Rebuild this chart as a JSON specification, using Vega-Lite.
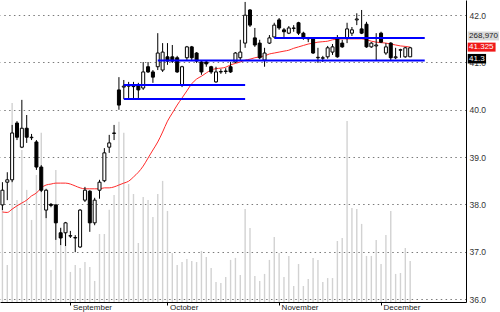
{
 "$schema": "https://vega.github.io/schema/vega-lite/v6.json",
 "width": 466,
 "height": 302,
 "padding": {"left": 0, "top": 0, "right": 34, "bottom": 10},
 "autosize": {"type": "none"},
 "background": "#ffffff",
 "config": {"view": {"stroke": null}, "font": "Liberation Sans"},
 "datasets": {
  "px": [
   {"d":"2012-08-14","o":37.99,"h":38.47,"l":37.88,"c":38.30,"v":669000,"ma":37.84},
   {"d":"2012-08-15","o":38.47,"h":38.68,"l":38.09,"c":38.52,"v":243000,"ma":37.83},
   {"d":"2012-08-16","o":38.52,"h":39.68,"l":38.47,"c":39.51,"v":1305000,"ma":37.90},
   {"d":"2012-08-17","o":39.72,"h":39.76,"l":39.36,"c":39.42,"v":669000,"ma":37.97},
   {"d":"2012-08-20","o":39.21,"h":40.21,"l":39.19,"c":39.61,"v":997000,"ma":38.03},
   {"d":"2012-08-21","o":39.61,"h":39.89,"l":39.30,"c":39.42,"v":735000,"ma":38.09},
   {"d":"2012-08-22","o":39.41,"h":39.49,"l":39.36,"c":39.42,"v":538000,"ma":38.18},
   {"d":"2012-08-23","o":39.32,"h":39.36,"l":38.73,"c":38.79,"v":833000,"ma":38.24},
   {"d":"2012-08-24","o":38.79,"h":38.83,"l":38.26,"c":38.30,"v":1109000,"ma":38.35},
   {"d":"2012-08-27","o":37.88,"h":38.33,"l":37.71,"c":38.30,"v":735000,"ma":38.41},
   {"d":"2012-08-28","o":38.00,"h":38.03,"l":37.94,"c":37.98,"v":210000,"ma":38.43},
   {"d":"2012-08-29","o":37.99,"h":37.99,"l":37.25,"c":37.61,"v":866000,"ma":38.45},
   {"d":"2012-08-30","o":37.40,"h":37.50,"l":37.14,"c":37.29,"v":492000,"ma":38.45},
   {"d":"2012-08-31","o":37.40,"h":37.63,"l":37.12,"c":37.61,"v":492000,"ma":38.45},
   {"d":"2012-09-03","o":37.33,"h":37.44,"l":37.29,"c":37.34,"v":197000,"ma":38.43},
   {"d":"2012-09-04","o":37.29,"h":37.35,"l":36.99,"c":37.30,"v":243000,"ma":38.39},
   {"d":"2012-09-05","o":37.10,"h":37.90,"l":37.08,"c":37.88,"v":223000,"ma":38.35},
   {"d":"2012-09-06","o":38.09,"h":38.37,"l":38.05,"c":38.30,"v":262000,"ma":38.33},
   {"d":"2012-09-07","o":38.28,"h":38.30,"l":37.42,"c":37.61,"v":230000,"ma":38.33},
   {"d":"2012-09-10","o":37.61,"h":38.14,"l":37.56,"c":38.09,"v":138000,"ma":38.33},
   {"d":"2012-09-11","o":38.30,"h":38.52,"l":38.12,"c":38.47,"v":446000,"ma":38.33},
   {"d":"2012-09-12","o":38.50,"h":39.19,"l":38.47,"c":39.09,"v":446000,"ma":38.35},
   {"d":"2012-09-13","o":39.21,"h":39.47,"l":39.09,"c":39.30,"v":604000,"ma":38.35},
   {"d":"2012-09-14","o":39.50,"h":39.68,"l":39.36,"c":39.51,"v":702000,"ma":38.37},
   {"d":"2012-09-17","o":40.42,"h":40.69,"l":40.00,"c":40.10,"v":1181000,"ma":38.41},
   {"d":"2012-09-18","o":40.48,"h":40.63,"l":40.23,"c":40.50,"v":1109000,"ma":38.45},
   {"d":"2012-09-19","o":40.50,"h":40.59,"l":40.25,"c":40.51,"v":774000,"ma":38.49},
   {"d":"2012-09-20","o":40.49,"h":40.59,"l":40.23,"c":40.50,"v":708000,"ma":38.58},
   {"d":"2012-09-21","o":40.52,"h":40.57,"l":40.25,"c":40.42,"v":387000,"ma":38.68},
   {"d":"2012-09-24","o":40.46,"h":41.01,"l":40.42,"c":40.80,"v":689000,"ma":38.81},
   {"d":"2012-09-25","o":40.91,"h":41.01,"l":40.78,"c":40.80,"v":669000,"ma":38.98},
   {"d":"2012-09-26","o":40.80,"h":40.84,"l":40.57,"c":40.69,"v":558000,"ma":39.15},
   {"d":"2012-09-27","o":40.91,"h":41.62,"l":40.84,"c":41.20,"v":708000,"ma":39.32},
   {"d":"2012-09-28","o":40.84,"h":41.41,"l":40.80,"c":41.22,"v":794000,"ma":39.53},
   {"d":"2012-10-01","o":41.12,"h":41.41,"l":40.95,"c":41.03,"v":597000,"ma":39.76},
   {"d":"2012-10-02","o":41.12,"h":41.37,"l":40.99,"c":41.03,"v":321000,"ma":39.93},
   {"d":"2012-10-03","o":41.10,"h":41.14,"l":40.78,"c":40.80,"v":243000,"ma":40.10},
   {"d":"2012-10-04","o":40.52,"h":40.93,"l":40.48,"c":40.91,"v":262000,"ma":40.25},
   {"d":"2012-10-05","o":41.10,"h":41.35,"l":41.05,"c":41.33,"v":282000,"ma":40.40},
   {"d":"2012-10-08","o":41.33,"h":41.35,"l":41.05,"c":41.10,"v":269000,"ma":40.55},
   {"d":"2012-10-09","o":41.20,"h":41.22,"l":40.99,"c":41.03,"v":262000,"ma":40.65},
   {"d":"2012-10-10","o":41.01,"h":41.05,"l":40.74,"c":40.80,"v":335000,"ma":40.71},
   {"d":"2012-10-11","o":41.01,"h":41.05,"l":40.91,"c":40.97,"v":295000,"ma":40.78},
   {"d":"2012-10-12","o":40.91,"h":40.93,"l":40.76,"c":40.80,"v":223000,"ma":40.84},
   {"d":"2012-10-15","o":40.59,"h":40.91,"l":40.57,"c":40.80,"v":131000,"ma":40.87},
   {"d":"2012-10-16","o":40.80,"h":40.86,"l":40.76,"c":40.81,"v":125000,"ma":40.88},
   {"d":"2012-10-17","o":40.81,"h":40.88,"l":40.76,"c":40.82,"v":164000,"ma":40.90},
   {"d":"2012-10-18","o":40.91,"h":41.01,"l":40.78,"c":40.80,"v":276000,"ma":40.95},
   {"d":"2012-10-19","o":41.01,"h":41.22,"l":40.99,"c":41.20,"v":289000,"ma":40.98},
   {"d":"2012-10-22","o":41.10,"h":41.48,"l":41.05,"c":41.22,"v":177000,"ma":41.01},
   {"d":"2012-10-23","o":41.41,"h":42.28,"l":41.31,"c":42.00,"v":610000,"ma":41.05},
   {"d":"2012-10-24","o":42.11,"h":42.13,"l":41.75,"c":41.79,"v":485000,"ma":41.07},
   {"d":"2012-10-25","o":41.52,"h":41.73,"l":41.33,"c":41.37,"v":171000,"ma":41.10},
   {"d":"2012-10-26","o":41.41,"h":41.48,"l":41.07,"c":41.10,"v":138000,"ma":41.12},
   {"d":"2012-10-29","o":41.05,"h":41.31,"l":40.91,"c":41.20,"v":184000,"ma":41.14},
   {"d":"2012-10-30","o":41.41,"h":41.58,"l":41.39,"c":41.52,"v":276000,"ma":41.18},
   {"d":"2012-10-31","o":41.54,"h":41.84,"l":41.52,"c":41.79,"v":426000,"ma":41.20},
   {"d":"2012-11-01","o":41.90,"h":41.94,"l":41.69,"c":41.73,"v":321000,"ma":41.22},
   {"d":"2012-11-02","o":41.69,"h":41.73,"l":41.54,"c":41.65,"v":164000,"ma":41.24},
   {"d":"2012-11-05","o":41.62,"h":41.77,"l":41.60,"c":41.73,"v":302000,"ma":41.26},
   {"d":"2012-11-06","o":41.72,"h":41.79,"l":41.65,"c":41.73,"v":105000,"ma":41.30},
   {"d":"2012-11-07","o":41.84,"h":41.86,"l":41.58,"c":41.62,"v":249000,"ma":41.33},
   {"d":"2012-11-08","o":41.62,"h":41.65,"l":41.48,"c":41.52,"v":105000,"ma":41.36},
   {"d":"2012-11-09","o":41.51,"h":41.54,"l":41.43,"c":41.50,"v":151000,"ma":41.39},
   {"d":"2012-11-12","o":41.50,"h":41.52,"l":41.18,"c":41.20,"v":289000,"ma":41.41},
   {"d":"2012-11-13","o":41.10,"h":41.31,"l":40.99,"c":41.11,"v":276000,"ma":41.43},
   {"d":"2012-11-14","o":41.09,"h":41.14,"l":41.01,"c":41.10,"v":131000,"ma":41.44},
   {"d":"2012-11-15","o":41.12,"h":41.35,"l":41.08,"c":41.31,"v":157000,"ma":41.45},
   {"d":"2012-11-16","o":41.22,"h":41.39,"l":41.16,"c":41.33,"v":157000,"ma":41.48},
   {"d":"2012-11-19","o":41.52,"h":41.58,"l":41.10,"c":41.12,"v":400000,"ma":41.49},
   {"d":"2012-11-20","o":41.41,"h":41.48,"l":41.31,"c":41.33,"v":420000,"ma":41.50},
   {"d":"2012-11-21","o":41.52,"h":41.84,"l":41.41,"c":41.71,"v":1187000,"ma":41.50},
   {"d":"2012-11-23","o":41.62,"h":41.75,"l":41.56,"c":41.69,"v":617000,"ma":41.50},
   {"d":"2012-11-26","o":41.90,"h":42.04,"l":41.79,"c":41.92,"v":610000,"ma":41.50},
   {"d":"2012-11-27","o":41.71,"h":42.11,"l":41.60,"c":41.62,"v":512000,"ma":41.50},
   {"d":"2012-11-28","o":41.81,"h":41.86,"l":41.31,"c":41.33,"v":302000,"ma":41.48},
   {"d":"2012-11-29","o":41.33,"h":41.43,"l":41.31,"c":41.41,"v":302000,"ma":41.45},
   {"d":"2012-11-30","o":41.35,"h":41.62,"l":41.05,"c":41.37,"v":407000,"ma":41.43},
   {"d":"2012-12-03","o":41.62,"h":41.65,"l":41.41,"c":41.43,"v":249000,"ma":41.42},
   {"d":"2012-12-04","o":41.20,"h":41.41,"l":41.16,"c":41.33,"v":440000,"ma":41.41},
   {"d":"2012-12-05","o":41.41,"h":41.43,"l":41.05,"c":41.10,"v":597000,"ma":41.39},
   {"d":"2012-12-06","o":41.10,"h":41.31,"l":41.07,"c":41.12,"v":184000,"ma":41.37},
   {"d":"2012-12-07","o":41.26,"h":41.29,"l":41.10,"c":41.27,"v":190000,"ma":41.35},
   {"d":"2012-12-10","o":41.12,"h":41.33,"l":41.10,"c":41.31,"v":354000,"ma":41.34},
   {"d":"2012-12-11","o":41.12,"h":41.33,"l":41.12,"c":41.31,"v":268970,"ma":41.325}
  ],
  "sr": [
   {"d":"2012-09-18","d2":"2012-10-23","level":40.524},
   {"d":"2012-09-18","d2":"2012-10-23","level":40.23},
   {"d":"2012-09-27","d2":"2012-12-14","level":41.04},
   {"d":"2012-10-31","d2":"2012-12-14","level":41.52}
  ],
  "tags": [
   {"d":"2012-12-27","kind":"volume","label":"268,970","at":41.56},
   {"d":"2012-12-27","kind":"average","label":"41.325","at":41.325},
   {"d":"2012-12-27","kind":"close","label":"41.3","at":41.08}
  ]
 },
 "encoding": {
  "x": {
   "field": "d", "type": "ordinal", "title": null,
   "scale": {"type": "band", "paddingInner": 0, "paddingOuter": 0, "domain": [
    "2012-08-14","2012-08-15","2012-08-16","2012-08-17","2012-08-20","2012-08-21","2012-08-22","2012-08-23","2012-08-24","2012-08-27","2012-08-28","2012-08-29","2012-08-30","2012-08-31",
    "2012-09-03","2012-09-04","2012-09-05","2012-09-06","2012-09-07","2012-09-10","2012-09-11","2012-09-12","2012-09-13","2012-09-14","2012-09-17","2012-09-18","2012-09-19","2012-09-20","2012-09-21","2012-09-24","2012-09-25","2012-09-26","2012-09-27","2012-09-28",
    "2012-10-01","2012-10-02","2012-10-03","2012-10-04","2012-10-05","2012-10-08","2012-10-09","2012-10-10","2012-10-11","2012-10-12","2012-10-15","2012-10-16","2012-10-17","2012-10-18","2012-10-19","2012-10-22","2012-10-23","2012-10-24","2012-10-25","2012-10-26","2012-10-29","2012-10-30","2012-10-31",
    "2012-11-01","2012-11-02","2012-11-05","2012-11-06","2012-11-07","2012-11-08","2012-11-09","2012-11-12","2012-11-13","2012-11-14","2012-11-15","2012-11-16","2012-11-19","2012-11-20","2012-11-21","2012-11-23","2012-11-26","2012-11-27","2012-11-28","2012-11-29","2012-11-30",
    "2012-12-03","2012-12-04","2012-12-05","2012-12-06","2012-12-07","2012-12-10","2012-12-11","2012-12-12","2012-12-13","2012-12-14","2012-12-17","2012-12-18","2012-12-19","2012-12-20","2012-12-21","2012-12-24","2012-12-26","2012-12-27"
   ]},
   "axis": {
    "orient": "bottom",
    "values": ["2012-09-03","2012-10-01","2012-11-01","2012-12-03"],
    "labelExpr": "datum.value == '2012-09-03' ? 'September' : datum.value == '2012-10-01' ? 'October' : datum.value == '2012-11-01' ? 'November' : 'December'",
    "labelAlign": "left", "labelBaseline": "top", "labelAngle": 0,
    "labelPadding": -2, "labelOffset": 2.5, "labelFontSize": 8, "labelColor": "#1a1a1a",
    "labelOverlap": false, "labelBound": false,
    "tickSize": 3, "tickColor": "#000000", "domainColor": "#000000",
    "grid": false, "bandPosition": 0.5, "zindex": 0
   }
  }
 },
 "layer": [
  {
   "data": {"name": "px"},
   "mark": {"type": "bar", "width": 1.4, "color": "#d2d2d2"},
   "encoding": {
    "y": {"field": "v", "type": "quantitative", "title": null, "scale": {"domain": [0, 1980000], "nice": false, "zero": true}, "axis": null}
   }
  },
  {
   "data": {"name": "px"},
   "mark": {"type": "line", "color": "#ff2b2b", "strokeWidth": 1, "interpolate": "monotone"},
   "encoding": {
    "y": {"field": "ma", "type": "quantitative", "title": null, "scale": {"domain": [35.937, 42.321], "nice": false, "zero": false}, "axis": null}
   }
  },
  {
   "data": {"name": "px"},
   "mark": {"type": "rule", "color": "#000000", "strokeWidth": 1},
   "encoding": {
    "y": {"field": "l", "type": "quantitative", "title": null, "scale": {"domain": [35.937, 42.321], "nice": false, "zero": false},
     "axis": {"orient": "right", "values": [36, 37, 38, 39, 40, 41, 42], "format": ".1f", "grid": true, "gridColor": "#7a7a7a", "gridDash": [1.5, 3.35], "gridWidth": 1, "domain": true, "domainColor": "#000000", "ticks": false, "labelPadding": 3, "labelFontSize": 8.5, "labelColor": "#333333", "labelBaseline": "middle", "labelBound": false, "labelOverlap": false, "zindex": 0}},
    "y2": {"field": "h"}
   }
  },
  {
   "data": {"name": "px"},
   "mark": {"type": "bar", "width": 3, "stroke": "#000000", "strokeWidth": 1},
   "encoding": {
    "y": {"field": "o", "type": "quantitative", "title": null, "scale": {"domain": [35.937, 42.321], "nice": false, "zero": false}, "axis": null},
    "y2": {"field": "c"},
    "fill": {"condition": {"test": "datum.c < datum.o", "value": "#000000"}, "value": "#ffffff"}
   }
  },
  {
   "data": {"name": "sr"},
   "mark": {"type": "rule", "color": "#0000ff", "strokeWidth": 2},
   "encoding": {
    "x2": {"field": "d2"},
    "y": {"field": "level", "type": "quantitative", "title": null, "scale": {"domain": [35.937, 42.321], "nice": false, "zero": false}, "axis": null}
   }
  },
  {
   "data": {"name": "tags"},
   "mark": {"type": "point", "filled": true, "size": 100, "opacity": 1, "strokeWidth": 0},
   "encoding": {
    "y": {"field": "at", "type": "quantitative", "title": null, "scale": {"domain": [35.937, 42.321], "nice": false, "zero": false}, "axis": null},
    "shape": {"field": "kind", "type": "nominal", "legend": null, "scale": {"domain": ["volume", "average", "close"], "range": ["M0.83,-0.9H7.1V0.9H0.83Z", "M0.83,-0.9H6.4V0.9H0.83Z", "M0.83,-0.95H4.5V0.95H0.83Z"]}},
    "fill": {"field": "kind", "type": "nominal", "legend": null, "scale": {"domain": ["volume", "average", "close"], "range": ["#d9d9d9", "#f01818", "#000000"]}}
   }
  },
  {
   "data": {"name": "tags"},
   "mark": {"type": "text", "align": "left", "baseline": "middle", "dx": 5.5, "fontSize": 8, "font": "Liberation Sans"},
   "encoding": {
    "y": {"field": "at", "type": "quantitative", "title": null, "scale": {"domain": [35.937, 42.321], "nice": false, "zero": false}, "axis": null},
    "text": {"field": "label"},
    "color": {"field": "kind", "type": "nominal", "legend": null, "scale": {"domain": ["volume", "average", "close"], "range": ["#222222", "#ffffff", "#ffffff"]}}
   }
  }
 ],
 "resolve": {"scale": {"y": "independent"}}
}
